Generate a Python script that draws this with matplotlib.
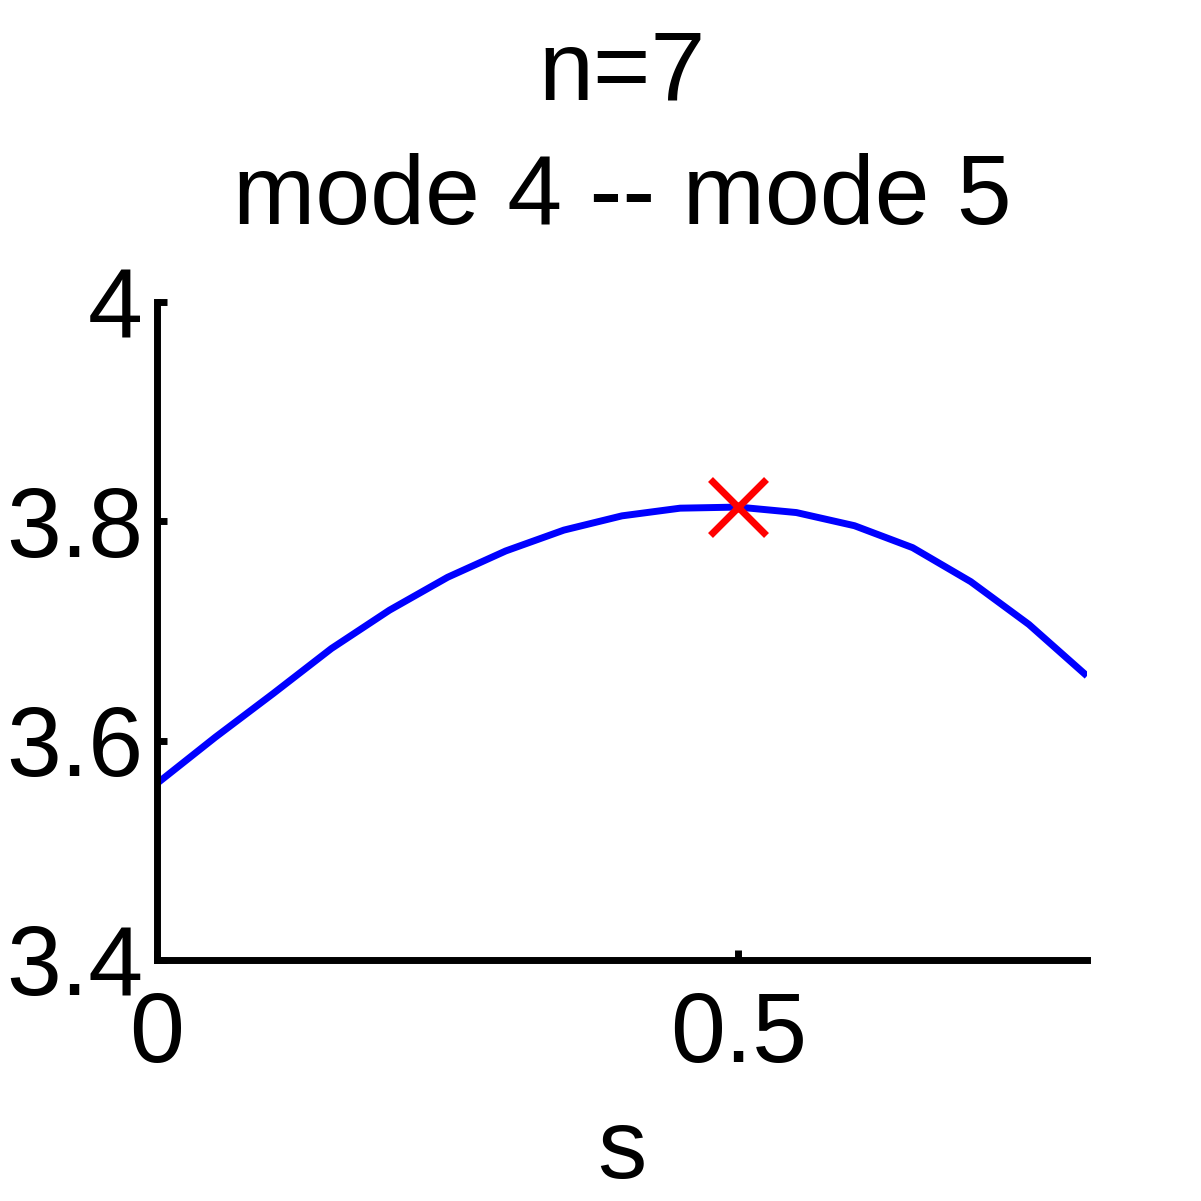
import matplotlib
matplotlib.use("Agg")
import matplotlib.pyplot as plt
import numpy as np

plt.rcParams['font.family'] = ['Liberation Sans', 'DejaVu Sans']

s = [0.0, 0.05, 0.1, 0.15, 0.2, 0.25, 0.3, 0.35, 0.4, 0.45, 0.5,
     0.55, 0.6, 0.65, 0.7, 0.75, 0.8]
freq = [3.561, 3.603, 3.643, 3.684, 3.719, 3.749, 3.773, 3.792, 3.805, 3.812, 3.813,
        3.808, 3.796, 3.776, 3.745, 3.706, 3.659]
s_mark = 0.5
freq_mark = 3.813

fig = plt.figure(figsize=[12.01, 12.01], dpi=100)
ax = fig.add_axes([157/1201, 1-960/1201, 930/1201, 658/1201])

ax.plot(s, freq, color='blue', lw=5, solid_capstyle='butt')
ax.plot(s_mark, freq_mark, 'x', color='red', ms=40, mew=5)

ax.set_xlim(0, 0.8)
ax.set_ylim(3.4, 4.0)
ax.set_xticks([0, 0.5])
ax.set_xticklabels(['0', '0.5'])
ax.set_yticks([3.4, 3.6, 3.8, 4.0])
ax.set_yticklabels(['3.4', '3.6', '3.8', '4'])

for side in ['top', 'right']:
    ax.spines[side].set_visible(False)
for side in ['left', 'bottom']:
    ax.spines[side].set_linewidth(5)
ax.tick_params(direction='in', length=7, width=5, labelsize=71)
ax.tick_params(axis='y', pad=10)
ax.tick_params(axis='x', pad=22)

ax.set_xlabel('s', fontsize=71, labelpad=18)
ax.set_title('n=7\nmode 4 -- mode 5', fontsize=71, pad=56, linespacing=1.47)

fig.savefig('out.png', dpi=100)
